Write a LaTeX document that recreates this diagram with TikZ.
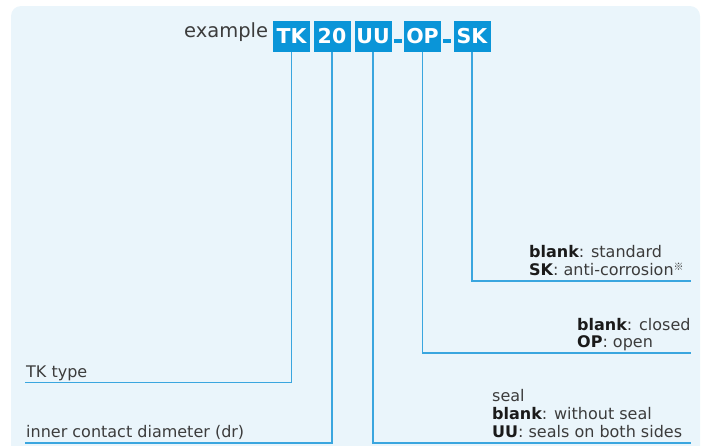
\documentclass[tikz,border=0pt]{standalone}
\usepackage{fontspec}
\setmainfont{DejaVu Sans}
\newfontfamily\cjkmark{Noto Sans CJK JP}
\definecolor{codeblue}{HTML}{0A95D8}
\definecolor{lineblue}{HTML}{3AA6DF}
\definecolor{bgblue}{HTML}{EAF5FB}
\definecolor{txtgray}{HTML}{3C3C3C}
\definecolor{txtdark}{HTML}{1A1A1A}
\newcommand{\bk}[1]{{\bfseries\color{txtdark}#1}}
\begin{document}
\begin{tikzpicture}[x=1pt,y=-1pt,
  codebox/.style={fill=codeblue, text=white, font=\fontsize{20.5}{20.5}\selectfont\bfseries,
    minimum width=37pt, minimum height=31pt, inner sep=0pt},
  dashbox/.style={fill=codeblue, minimum width=8pt, minimum height=4pt, inner sep=0pt},
  lbl/.style={anchor=base west, inner sep=0pt, text=txtgray, font=\fontsize{16}{18}\selectfont},
  lead/.style={draw=lineblue, line width=1.6pt}]
\useasboundingbox (0,0) rectangle (702,445);
\begin{scope}
\clip (0,0) rectangle (702,445);
\fill[bgblue, rounded corners=10pt] (11,6) rectangle (700,475);
\end{scope}
% header
\node[anchor=base west, inner sep=0pt, text=txtgray, font=\fontsize{19.5}{20}\selectfont] (ex) at (184,37.3) {example};
\node[codebox] (tk) at (291.5,36.5) {TK};
\node[codebox] (dia) at (332,36.5) {20};
\node[codebox] (uu) at (373,36.5) {UU};
\node[dashbox] (d1) at (398,41.3) {};
\node[codebox] (op) at (422.5,36.5) {OP};
\node[dashbox] (d2) at (447,41.3) {};
\node[codebox] (sk) at (472,36.5) {SK};
% labels
\node[lbl] (tktype) at (26,377.7) {TK type};
\node[lbl] (inner) at (26,437.5) {inner contact diameter (dr)};
\node[lbl] (seal1) at (492,401.5) {seal};
\node[lbl] (seal2) at (492,419.5) {\bk{blank}: without seal};
\node[lbl] (seal3) at (492,437.5) {\bk{UU}: seals on both sides};
\node[lbl] (op1) at (577,330) {\bk{blank}: closed};
\node[lbl] (op2) at (577,347) {\bk{OP}: open};
\node[lbl] (sk1) at (529,257) {\bk{blank}: standard};
\node[lbl] (sk2) at (529,275) {\bk{SK}: anti-corrosion\raisebox{0.55ex}{\cjkmark\fontsize{10}{10}\selectfont ※}};
% leader ends
\coordinate (tkend) at (25,382.5);
\coordinate (diaend) at (25,443);
\coordinate (uuend) at (691,443);
\coordinate (opend) at (691,352.7);
\coordinate (skend) at (691,280.7);
\draw[lead] (tk.south) |- (tkend);
\draw[lead] (dia.south) |- (diaend);
\draw[lead] (uu.south) |- (uuend);
\draw[lead] (op.south) |- (opend);
\draw[lead] (sk.south) |- (skend);
\end{tikzpicture}
\end{document}
